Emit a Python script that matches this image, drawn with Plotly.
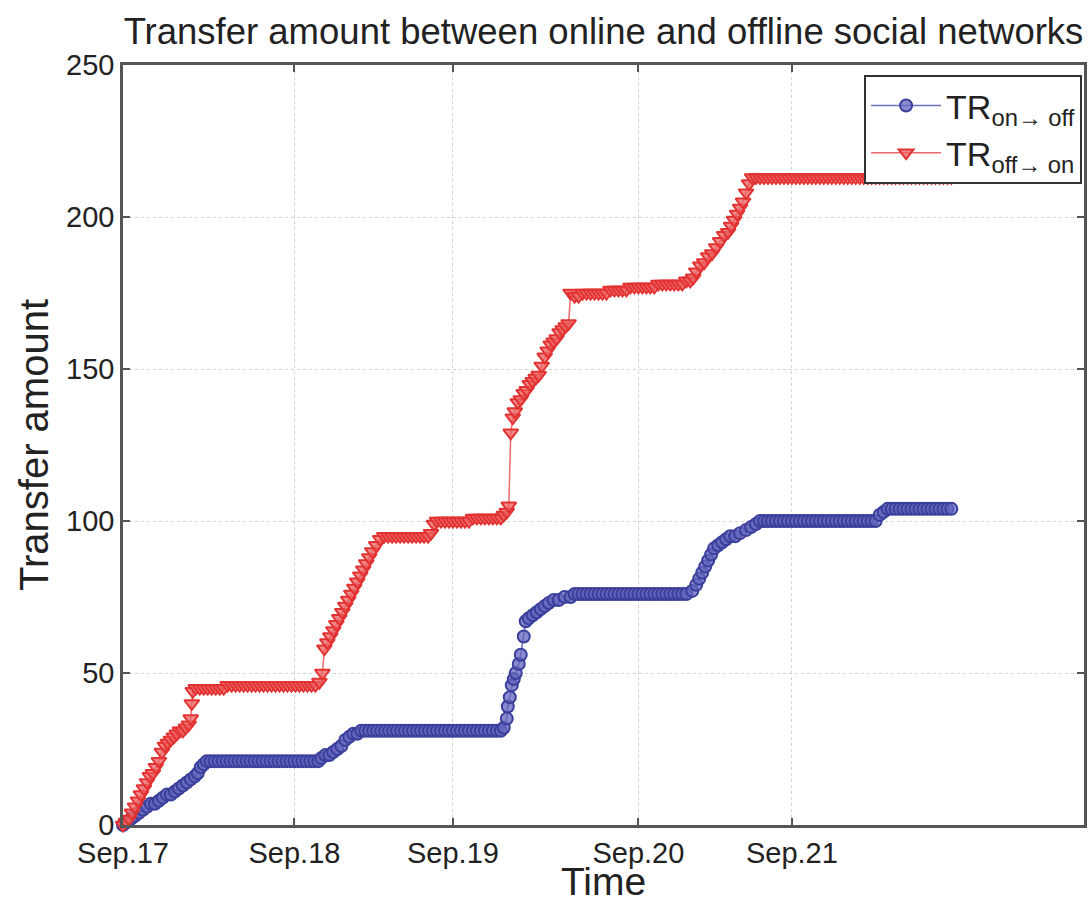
import plotly.graph_objects as go

# Time index of each recorded transfer event (Sep.17 start = 0) and cumulative transfer amount
red_t = [0, 3, 6, 9, 12, 15, 18, 21, 24, 27, 30, 33, 36, 39, 42, 45, 48, 51, 54, 57, 60, 63, 66, 68, 69, 70,
         73, 77, 81, 85, 89, 93, 97, 101, 105, 109, 113, 117, 121, 125, 129, 133, 137, 141, 145, 149,
         153, 157, 161, 165, 169, 173, 177, 181, 185, 189, 193,
         197, 200, 202, 205, 208, 211, 214, 217, 220, 223, 226, 229, 232, 235, 238, 241, 244, 247, 250, 254, 258,
         262, 266, 270, 274, 278, 282, 286, 290, 294, 298, 302, 306, 309, 312, 315,
         319, 323, 327, 331, 335, 339, 343, 347, 351, 355, 359, 363, 367, 371, 375, 379,
         382, 385, 387, 389, 391, 393, 396, 399, 402, 405, 408, 411, 414, 417, 420, 423, 426, 429, 432, 435, 438,
         441, 444, 447, 449,
         453, 457, 461, 465, 469, 473, 477, 481, 485, 489, 493, 497, 501, 505, 509, 513, 517, 521, 525, 529,
         533, 537, 541, 545, 549, 553, 557, 561, 565,
         569, 572, 575, 579, 583, 587, 591, 595, 599, 603, 607, 610, 613, 616, 619, 622, 625, 628, 631,
         635, 639, 643, 647, 651, 655, 659, 663, 667, 671, 675, 679, 683, 687, 691, 695, 699, 703, 707, 711,
         715, 719, 723, 727, 731, 735, 739, 743, 747, 751, 755, 759, 763, 767, 771, 775, 779, 783, 787, 791,
         795, 799, 803, 807, 811, 815, 819, 823, 827, 831]
red_v = [0, 1, 2, 4, 6, 8, 10, 12, 14, 16, 17, 19, 21, 24, 26, 27, 28, 29, 30, 31, 31, 32, 33, 35, 40, 44,
         45, 45, 45, 45, 45, 45, 45, 45, 46, 46, 46, 46, 46, 46, 46, 46, 46, 46, 46, 46,
         46, 46, 46, 46, 46, 46, 46, 46, 46, 46, 46,
         47, 50, 58, 60, 62, 64, 66, 68, 70, 72, 74, 76, 78, 80, 82, 84, 86, 88, 90, 92, 94,
         95, 95, 95, 95, 95, 95, 95, 95, 95, 95, 95, 95, 96, 99, 100,
         100, 100, 100, 100, 100, 100, 100, 100, 101, 101, 101, 101, 101, 101, 101, 101,
         102, 103, 105, 129, 134, 136, 139, 140, 142, 143, 145, 146, 147, 148, 151, 154, 156, 158, 159, 160, 162,
         163, 164, 165, 175,
         174, 174, 175, 175, 175, 175, 175, 175, 175, 176, 176, 176, 176, 176, 177, 177, 177, 177, 177, 177,
         177, 178, 178, 178, 178, 178, 178, 178, 179,
         179, 180, 182, 184, 185, 187, 188, 190, 192, 194, 195, 197, 199, 201, 203, 205, 208, 211, 213,
         213, 213, 213, 213, 213, 213, 213, 213, 213, 213, 213, 213, 213, 213, 213, 213, 213, 213, 213, 213,
         213, 213, 213, 213, 213, 213, 213, 213, 213, 213, 213, 213, 213, 213, 213, 213, 213, 213, 213, 213,
         213, 213, 213, 213, 213, 213, 213, 213, 213, 213]

blue_t = [0, 4, 8, 12, 16, 20, 24, 28, 32, 36, 40, 44, 48, 52, 56, 60, 64, 68, 72, 75, 78, 81, 84,
          88, 92, 96, 100, 104, 108, 112, 116, 120, 124, 128, 132, 136, 140, 144, 148, 152, 156, 160, 164,
          168, 172, 176, 180, 184, 188, 192, 196,
          199, 203, 207, 211, 215, 219, 223, 227, 231, 235,
          239, 243, 247, 251, 255, 259, 263, 267, 271, 275, 279, 283, 287, 291, 295, 299, 303, 307, 311, 315,
          319, 323, 327, 331, 335, 339, 343, 347, 351, 355, 359, 363, 367, 371, 375, 379,
          382, 385, 386, 388, 390, 392, 394, 397, 399, 402, 404, 407, 411, 415, 419, 423, 427, 432, 437, 443, 449,
          453, 457, 461, 465, 469, 473, 477, 481, 485, 489, 493, 497, 501, 505, 509, 513, 517, 521, 525, 529,
          533, 537, 541, 545, 549, 553, 557, 561, 565,
          571, 575, 578, 581, 584, 587, 590, 593, 597, 601, 605, 609, 614, 619, 625, 630, 635, 639,
          643, 647, 651, 655, 659, 663, 667, 671, 675, 679, 683, 687, 691, 695, 699, 703, 707, 711, 715, 719,
          723, 727, 731, 735, 739, 743, 747, 751, 755,
          759, 763, 767,
          771, 775, 779, 783, 787, 791, 795, 799, 803, 807, 811, 815, 819, 823, 827, 831]
blue_v = [0, 1, 2, 3, 4, 5, 6, 7, 7, 8, 9, 10, 10, 11, 12, 13, 14, 15, 16, 17, 19, 20, 21,
          21, 21, 21, 21, 21, 21, 21, 21, 21, 21, 21, 21, 21, 21, 21, 21, 21, 21, 21, 21,
          21, 21, 21, 21, 21, 21, 21, 21,
          22, 23, 23, 24, 25, 26, 28, 29, 30, 30,
          31, 31, 31, 31, 31, 31, 31, 31, 31, 31, 31, 31, 31, 31, 31, 31, 31, 31, 31, 31,
          31, 31, 31, 31, 31, 31, 31, 31, 31, 31, 31, 31, 31, 31, 31, 31,
          32, 35, 39, 42, 46, 48, 50, 53, 56, 62, 67, 68, 69, 70, 71, 72, 73, 74, 74, 75, 75,
          76, 76, 76, 76, 76, 76, 76, 76, 76, 76, 76, 76, 76, 76, 76, 76, 76, 76, 76, 76,
          76, 76, 76, 76, 76, 76, 76, 76, 76,
          77, 79, 81, 83, 85, 87, 89, 91, 92, 93, 94, 95, 95, 96, 97, 98, 99, 100,
          100, 100, 100, 100, 100, 100, 100, 100, 100, 100, 100, 100, 100, 100, 100, 100, 100, 100, 100, 100,
          100, 100, 100, 100, 100, 100, 100, 100, 100,
          102, 103, 104,
          104, 104, 104, 104, 104, 104, 104, 104, 104, 104, 104, 104, 104, 104, 104, 104]

day_ticks = [0, 172, 331, 517, 671]
day_labels = ["Sep.17", "Sep.18", "Sep.19", "Sep.20", "Sep.21"]
amount_ticks = [0, 50, 100, 150, 200, 250]

BLUE = "#3b3f9c"
RED = "#e23232"
FONT = "Liberation Sans, Arial, Helvetica, sans-serif"

fig = go.Figure()
fig.add_trace(go.Scatter(
    x=blue_t, y=blue_v, mode="lines+markers", name="TR<sub>on\u2192 off</sub>",
    line=dict(color="#6d70c0", width=1.5),
    marker=dict(symbol="circle", size=12, color="rgba(100,102,190,0.75)",
                line=dict(color=BLUE, width=2)),
    cliponaxis=False,
))
fig.add_trace(go.Scatter(
    x=red_t, y=red_v, mode="lines+markers", name="TR<sub>off\u2192 on</sub>",
    line=dict(color="#ec6a6a", width=1.5),
    marker=dict(symbol="triangle-down", size=13, color="rgba(236,100,100,0.75)",
                line=dict(color=RED, width=2)),
    cliponaxis=False,
))

axis_common = dict(
    showline=True, linecolor="#555", linewidth=2.5, mirror="ticks",
    ticks="inside", ticklen=7, tickwidth=1.5, tickcolor="#555",
    showgrid=True, gridcolor="#d2d2d2", griddash="dot", gridwidth=1,
    zeroline=False, tickfont=dict(family=FONT, size=29, color="#222"),
)

fig.update_layout(
    width=1090, height=903,
    margin=dict(l=123, r=3, t=65, b=77),
    paper_bgcolor="white", plot_bgcolor="white",
    title=dict(text="Transfer amount between online and offline social networks",
               font=dict(family=FONT, size=36.5, color="#222"),
               x=0.5, xref="paper", xanchor="center", y=1 - 31 / 903, yanchor="middle"),
    xaxis=dict(range=[0, 964], tickmode="array", tickvals=day_ticks, ticktext=day_labels,
               title=dict(text="Time", font=dict(family=FONT, size=39, color="#222"), standoff=4),
               **axis_common),
    yaxis=dict(range=[0, 250], tickmode="array", tickvals=amount_ticks,
               title=dict(text="Transfer amount", font=dict(family=FONT, size=40, color="#222"), standoff=6),
               **axis_common),
    legend=dict(x=0.998, y=0.987, xanchor="right", yanchor="top",
                bgcolor="white", bordercolor="#333", borderwidth=2, itemwidth=70,
                font=dict(family=FONT, size=34, color="#222"), tracegroupgap=0),
    showlegend=True,
)

fig.write_html("out.html")
